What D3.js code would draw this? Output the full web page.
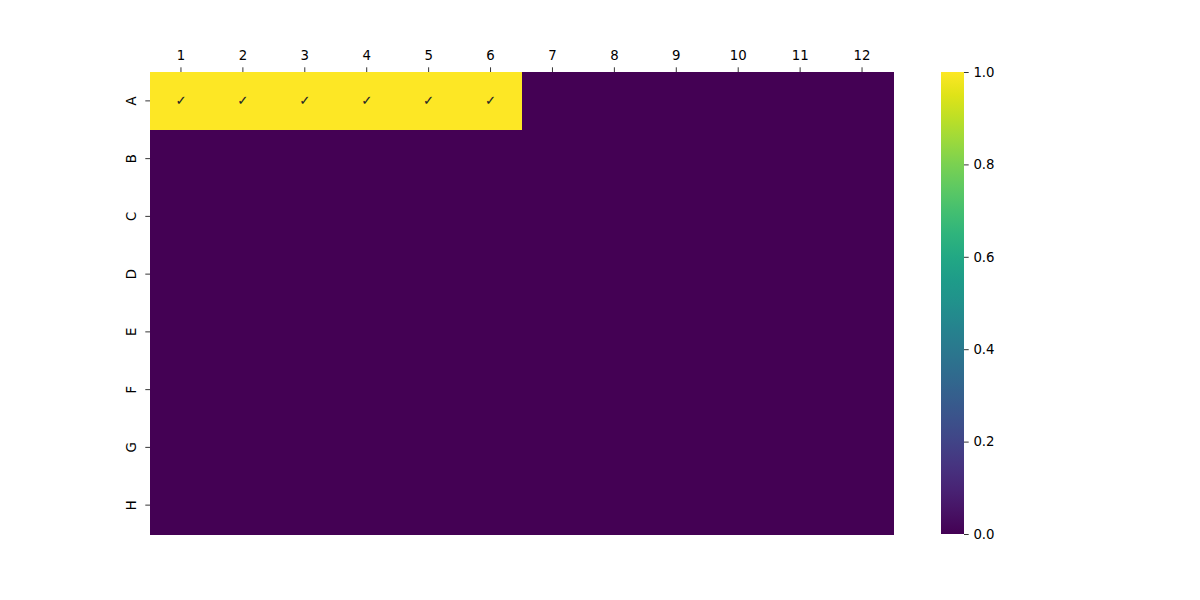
<!DOCTYPE html>
<html>
<head>
<meta charset="utf-8">
<script src="https://cdn.jsdelivr.net/npm/d3@7"></script>
<style>
  body { margin: 0; background: #fff; }
  svg text { font-family: 'DejaVu Sans', sans-serif; font-size: 13.3px; fill: #000; }
</style>
</head>
<body>
<svg id="chart" width="1200" height="600"></svg>
<script>
const rows = ['A', 'B', 'C', 'D', 'E', 'F', 'G', 'H'];
const cols = ['1', '2', '3', '4', '5', '6', '7', '8', '9', '10', '11', '12'];
// 1 = filled well, row by row
const rowA = [1, 1, 1, 1, 1, 1, 0, 0, 0, 0, 0, 0];
const rowB = [0, 0, 0, 0, 0, 0, 0, 0, 0, 0, 0, 0];
const rowC = [0, 0, 0, 0, 0, 0, 0, 0, 0, 0, 0, 0];
const rowD = [0, 0, 0, 0, 0, 0, 0, 0, 0, 0, 0, 0];
const rowE = [0, 0, 0, 0, 0, 0, 0, 0, 0, 0, 0, 0];
const rowF = [0, 0, 0, 0, 0, 0, 0, 0, 0, 0, 0, 0];
const rowG = [0, 0, 0, 0, 0, 0, 0, 0, 0, 0, 0, 0];
const rowH = [0, 0, 0, 0, 0, 0, 0, 0, 0, 0, 0, 0];
const values = [rowA, rowB, rowC, rowD, rowE, rowF, rowG, rowH];
const cbarTicks = [0, 0.2, 0.4, 0.6, 0.8, 1.0];

const svg = d3.select('#chart');
const plotLeft = 150, plotTop = 72, plotRight = 893, plotBottom = 534;

const x = d3.scaleBand().domain(cols).range([plotLeft, plotRight]);
const y = d3.scaleBand().domain(rows).range([plotTop, plotBottom]);
const color = d3.scaleSequential(d3.interpolateViridis).domain([0, 1]);

const cells = [];
values.forEach((r, i) => r.forEach((v, j) => cells.push({ row: rows[i], col: cols[j], v })));

svg.append('g').selectAll('rect')
  .data(cells)
  .enter().append('rect')
    .attr('x', d => x(d.col))
    .attr('y', d => y(d.row))
    .attr('width', x.bandwidth() + 0.5)
    .attr('height', y.bandwidth() + 0.5)
    .attr('shape-rendering', 'crispEdges')
    .attr('fill', d => color(d.v));

// checkmarks on filled wells
svg.append('g').selectAll('text')
  .data(cells.filter(d => d.v === 1))
  .enter().append('text')
    .attr('x', d => x(d.col) + x.bandwidth() / 2)
    .attr('y', d => y(d.row) + y.bandwidth() / 2)
    .attr('text-anchor', 'middle')
    .attr('dominant-baseline', 'central')
    .style('fill', '#262626')
    .text('✓');

// top x axis
const xAxis = svg.append('g')
  .attr('transform', `translate(0, ${plotTop})`)
  .call(d3.axisTop(x).tickSize(4.7).tickPadding(7.5).tickSizeOuter(0));
xAxis.select('.domain').remove();
xAxis.selectAll('line').attr('stroke', '#000').attr('stroke-width', 0.8);

// left y axis, vertical labels
const yAxis = svg.append('g')
  .attr('transform', `translate(${plotLeft}, 0)`)
  .call(d3.axisLeft(y).tickSize(4.7).tickSizeOuter(0));
yAxis.select('.domain').remove();
yAxis.selectAll('line').attr('stroke', '#000').attr('stroke-width', 0.8);
yAxis.selectAll('text')
  .attr('x', null).attr('dy', null)
  .attr('text-anchor', 'middle')
  .attr('dominant-baseline', 'central')
  .attr('transform', 'translate(-18.5, 0) rotate(-90)');

// colorbar
const cbX = 941, cbW = 23;
const cy = d3.scaleLinear().domain([0, 1]).range([plotBottom, plotTop]);
const defs = svg.append('defs');
const grad = defs.append('linearGradient')
  .attr('id', 'cbar').attr('x1', 0).attr('x2', 0).attr('y1', 1).attr('y2', 0);
d3.range(0, 1.0001, 0.05).forEach(t => {
  grad.append('stop').attr('offset', t).attr('stop-color', color(t));
});
svg.append('rect')
  .attr('x', cbX).attr('y', plotTop)
  .attr('width', cbW).attr('height', plotBottom - plotTop)
  .attr('fill', 'url(#cbar)');

const cAxis = svg.append('g')
  .attr('transform', `translate(${cbX + cbW}, 0)`)
  .call(d3.axisRight(cy).tickValues(cbarTicks).tickFormat(d3.format('.1f'))
    .tickSize(4.7).tickPadding(4.7).tickSizeOuter(0));
cAxis.select('.domain').remove();
cAxis.selectAll('line').attr('stroke', '#000').attr('stroke-width', 0.8);
</script>
</body>
</html>
